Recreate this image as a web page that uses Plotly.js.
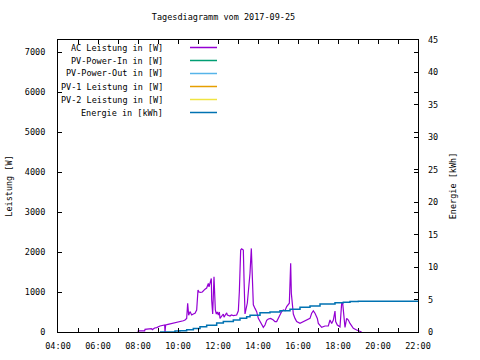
<!DOCTYPE html>
<html>
<head>
<meta charset="utf-8">
<script src="https://cdn.plot.ly/plotly-3.0.1.min.js"></script>
<style>html,body{margin:0;padding:0;background:#fff;}#chart{width:480px;height:360px;}</style>
</head>
<body>
<div id="chart"></div>
<script>
const DAY = '2017-09-25 ';
const seriesNames = ['AC Leistung in [W]', 'PV-Power-In in [W]', 'PV-Power-Out in [W]', 'PV-1 Leistung in [W]', 'PV-2 Leistung in [W]', 'Energie in [kWh]'];
const seriesColors = ['#9400d3', '#009e73', '#56b4e9', '#e69f00', '#f0e442', '#0072b2'];

const acTimes = ['08:00','08:01','08:20','08:21','08:40','08:43','08:50','08:56','09:06','09:16','09:20','09:21','09:23','09:30','09:36','09:41','09:56','10:06','10:16','10:21','10:26','10:29','10:32','10:36','10:41','10:46','10:51','10:56','11:00','11:03','11:08','11:13','11:18','11:21','11:26','11:31','11:33','11:36','11:40','11:41','11:44','11:48','11:50','11:52','11:55','11:58','12:01','12:04','12:06','12:10','12:16','12:18','12:26','12:28','12:36','12:40','12:46','12:56','13:01','13:04','13:08','13:11','13:16','13:18','13:21','13:28','13:33','13:36','13:40','13:43','13:46','13:51','13:56','14:01','14:06','14:11','14:16','14:21','14:26','14:31','14:38','14:46','14:51','14:56','15:01','15:11','15:16','15:21','15:26','15:31','15:34','15:36','15:38','15:40','15:46','15:51','15:56','16:06','16:16','16:26','16:36','16:41','16:46','16:51','16:54','16:58','17:01','17:06','17:11','17:21','17:31','17:36','17:41','17:46','17:51','17:53','17:58','18:06','18:11','18:14','18:16','18:21','18:26','18:31','18:36','18:46','18:56','19:06','19:11'];
const acWatts = [0,30,30,65,85,60,100,110,150,175,175,0,175,190,200,215,235,260,280,300,340,720,420,510,425,450,470,550,1050,1000,990,1000,1060,1070,1100,1215,1130,1250,1340,800,450,1380,700,550,450,500,425,500,340,375,450,370,480,425,400,425,410,425,530,1000,2050,2080,2050,1350,450,725,1100,1470,2090,1220,680,590,510,340,260,175,115,175,290,325,340,300,260,260,340,511,550,530,635,675,720,1220,1720,970,450,340,260,215,260,300,340,470,530,470,425,340,215,150,115,150,150,300,215,300,525,260,175,130,720,720,590,115,340,300,215,90,50,25,0];

const pvInTimes = [], pvInWatts = [];
const pvOutTimes = [], pvOutWatts = [];
const pv1Times = [], pv1Watts = [];
const pv2Times = [], pv2Watts = [];

const energyTimes = ['09:06','09:51','10:06','10:26','10:46','11:06','11:26','11:56','12:16','12:46','13:06','13:26','13:36','14:06','14:36','15:06','15:36','16:06','16:36','17:06','17:51','18:16','18:36','19:01','22:00'];
const energyKWh = [0,0.15,0.2,0.35,0.55,0.8,1.05,1.4,1.6,1.85,2.1,2.35,2.6,2.97,3.1,3.28,3.5,3.8,4.0,4.3,4.5,4.6,4.7,4.75,4.75];

const xTickVals = ['04:00','06:00','08:00','10:00','12:00','14:00','16:00','18:00','20:00','22:00'];

const FONT = '"DejaVu Sans Mono", "Liberation Mono", monospace';
const toX = a => a.map(t => DAY + t);

const powerSeries = [[acTimes, acWatts], [pvInTimes, pvInWatts], [pvOutTimes, pvOutWatts], [pv1Times, pv1Watts], [pv2Times, pv2Watts]];
const traces = powerSeries.map((s, i) => ({
  type: 'scatter', mode: 'lines', name: seriesNames[i],
  x: toX(s[0]), y: s[1], yaxis: 'y',
  line: {color: seriesColors[i], width: 1.2}, showlegend: false
}));
traces.push({
  type: 'scatter', mode: 'lines', name: seriesNames[5],
  x: toX(energyTimes), y: energyKWh, yaxis: 'y2',
  line: {color: seriesColors[5], width: 1.5, shape: 'hv'}, showlegend: false
});

// gnuplot-style key: right-aligned text, sample line to the right
const plotTop = 40, plotH = 292;
const annotations = [], shapes = [];
seriesNames.forEach((n, i) => {
  const ypx = 47.5 + 13 * i;
  const yp = 1 - (ypx - plotTop) / plotH;
  annotations.push({xref: 'paper', yref: 'paper', x: 0.297, y: yp, xanchor: 'right', yanchor: 'middle',
    text: n, showarrow: false, font: {family: FONT, size: 8.5, color: '#000'}});
  shapes.push({type: 'line', xref: 'paper', yref: 'paper', x0: 0.3667, x1: 0.4417, y0: yp, y1: yp,
    line: {color: seriesColors[i], width: 1.5}});
});

const layout = {
  width: 480, height: 360,
  margin: {l: 58, r: 62, t: 40, b: 28, pad: 0},
  paper_bgcolor: '#fff', plot_bgcolor: '#fff',
  showlegend: false,
  font: {family: FONT, size: 8.5, color: '#000'},
  title: {text: 'Tagesdiagramm vom 2017-09-25', xref: 'container', yref: 'container', x: 0.4656, y: 0.952,
    xanchor: 'center', yanchor: 'middle', font: {family: FONT, size: 8.5, color: '#000'}},
  xaxis: {
    type: 'date', range: [DAY + '04:00', DAY + '22:00'],
    tickvals: toX(xTickVals), ticktext: xTickVals,
    ticks: 'inside', ticklen: 4, tickcolor: '#000', tickwidth: 1,
    minor: {dtick: 3600000, ticks: 'inside', ticklen: 4, tickcolor: '#000', showgrid: false},
    showline: true, linecolor: '#000', linewidth: 1, mirror: 'allticks',
    showgrid: false, zeroline: false, ticklabelstandoff: 6,
    tickfont: {family: FONT, size: 8.5, color: '#000'}
  },
  yaxis: {
    range: [0, 7300], dtick: 1000, tick0: 0,
    ticks: 'inside', ticklen: 4, tickcolor: '#000',
    showline: true, linecolor: '#000', linewidth: 1, mirror: 'ticks',
    showgrid: false, zeroline: false, ticklabelstandoff: 10,
    tickfont: {family: FONT, size: 8.5, color: '#000'},
    title: {text: 'Leistung [W]', standoff: 10, font: {family: FONT, size: 8.5, color: '#000'}}
  },
  yaxis2: {
    overlaying: 'y', side: 'right', range: [0, 45], dtick: 5, tick0: 0,
    ticks: 'inside', ticklen: 4, tickcolor: '#000',
    showline: false, showgrid: false, zeroline: false, ticklabelstandoff: 9,
    tickfont: {family: FONT, size: 8.5, color: '#000'},
    title: {text: 'Energie [kWh]', standoff: 12, font: {family: FONT, size: 8.5, color: '#000'}}
  },
  annotations: annotations,
  shapes: shapes
};

Plotly.newPlot('chart', traces, layout, {staticPlot: true, displayModeBar: false});
</script>
</body>
</html>
